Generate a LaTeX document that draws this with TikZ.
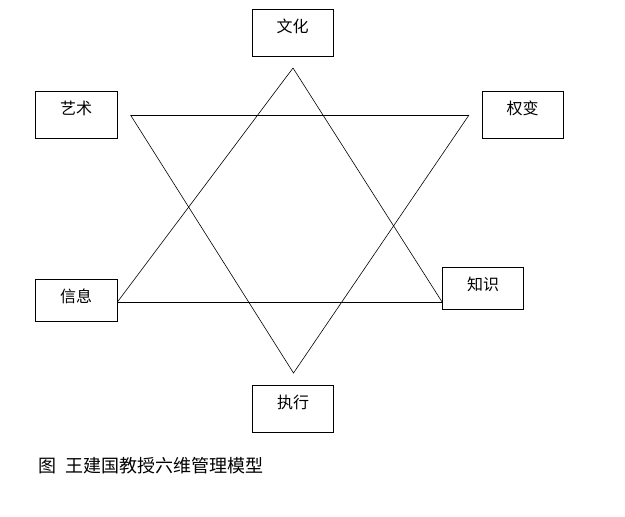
\documentclass[tikz,border=0pt]{standalone}
\usepackage{fontspec}
\setmainfont{Noto Sans CJK SC}

\begin{document}
\begin{tikzpicture}[x=1pt, y=-1pt, line width=0.8pt,
    dimbox/.style={draw, inner sep=0pt, minimum width=81pt,
        text height=23pt, text depth=24pt, font=\fontsize{16}{19}\selectfont},
    lowbox/.style={dimbox, text depth=18.5pt}]

\useasboundingbox (0,0) rectangle (625,517);

% ============================
% Six dimension boxes
% ============================
\node[dimbox] (culture)   at (292.5,32.5) {文化};
\node[dimbox, minimum width=82pt] (art) at (76,114.5) {艺术};
\node[dimbox] (adapt)     at (522.5,114.5) {权变};
\node[lowbox, minimum width=82pt, text depth=19pt] (info) at (76,300) {信息};
\node[lowbox] (knowledge) at (483,288.5) {知识};
\node[dimbox] (execute)   at (293,408.5) {执行};

% Corners of the two triangles
\coordinate (UpTop)    at (293,68);
\coordinate (UpLeft)   at (info.east |- 0,302);
\coordinate (UpRight)  at (knowledge.west |- 0,302);
\coordinate (DnLeft)   at (130.5,115);
\coordinate (DnRight)  at (469,115);
\coordinate (DnBottom) at (293.5,373);

% ============================
% Upward triangle
% ============================
\draw[line width=0.6pt] (UpTop) -- (UpLeft);
\draw[line width=0.6pt] (UpTop) -- (UpRight);
\draw (UpLeft) -- (UpRight);

% ============================
% Downward triangle
% ============================
\draw (DnLeft) -- (DnRight);
\draw[line width=0.6pt] (DnLeft) -- (DnBottom) -- (DnRight);

% Caption
\node[anchor=base west, inner sep=0pt, font=\fontsize{18}{21}\selectfont] (caption)
    at (38,472) {图\hspace{9pt}王建国教授六维管理模型};

\end{tikzpicture}
\end{document}
